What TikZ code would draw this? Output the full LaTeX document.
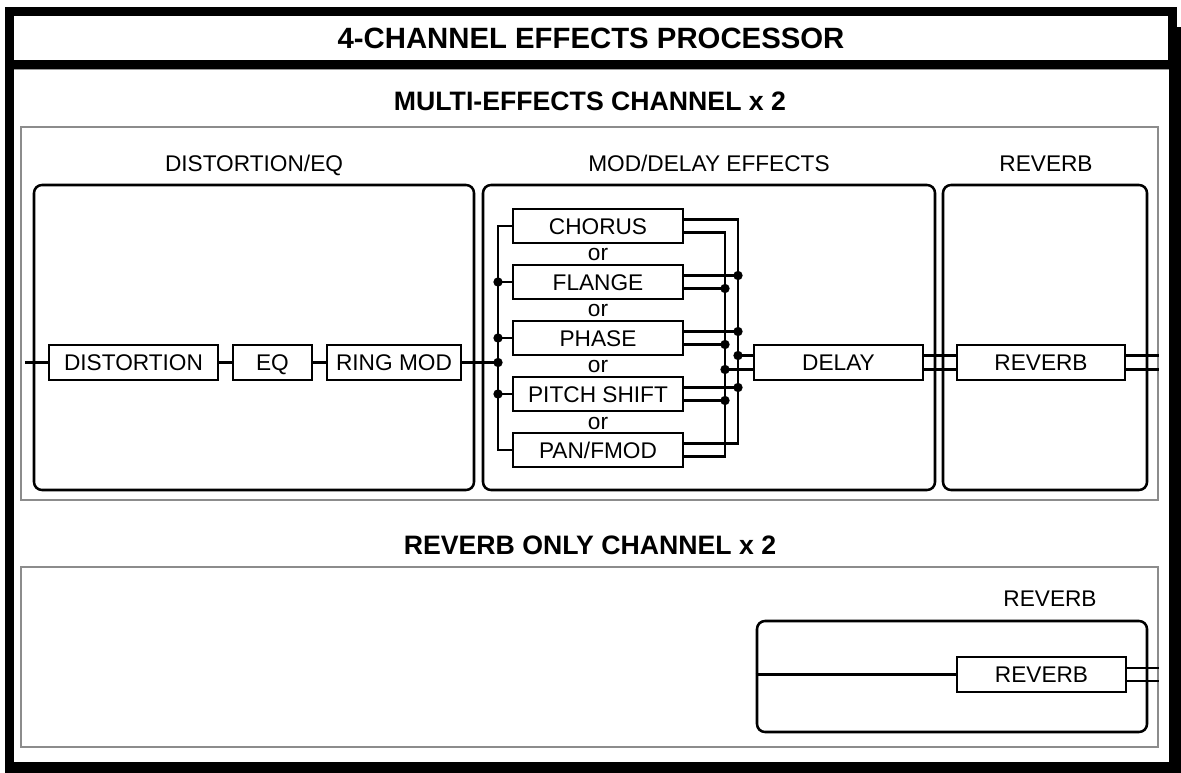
\documentclass[tikz,border=0pt]{standalone}
\usepackage{fontspec}
\setmainfont{Liberation Sans}
\usetikzlibrary{calc}
\begin{document}
\begin{tikzpicture}[x=0.75pt,y=-0.75pt,
  lbl/.style={font=\fontsize{17}{20}\selectfont, inner sep=0pt, text height=12.2pt, text depth=0pt},
  ttl/.style={font=\fontsize{20}{24}\selectfont\bfseries, inner sep=0pt, text height=14.3pt, text depth=0pt},
  fx/.style 2 args={draw, line width=2.2pt, fill=white, inner sep=0pt,
     minimum width=#1*0.75pt, minimum height=#2*0.75pt, font=\fontsize{17}{20}\selectfont,
     text height=12.2pt, text depth=0pt},
  grp/.style 2 args={draw, line width=1.9pt, rounded corners=6pt, inner sep=0pt,
     minimum width=#1*0.75pt, minimum height=#2*0.75pt},
  gbox/.style 2 args={draw=black!45, line width=1.5pt, inner sep=0pt,
     minimum width=#1*0.75pt, minimum height=#2*0.75pt},
  wire/.style={line width=2.2pt},
  jdot/.style={circle, fill, inner sep=0pt, minimum size=7pt}
]
\useasboundingbox (0,0) rectangle (1181,773);
% outer frame
\fill[white] (0,0) rectangle (1181,773);
\draw[line width=6.75pt] (9.5,12) rectangle (1172.5,65);
\fill[black] (5,65) rectangle (14,773);
\fill[black] (5,762) rectangle (1181,773);
\fill[black] (1169,27) rectangle (1181,773);
\draw[black!40, line width=0.9pt] (14,69.5) -- (1169,69.5);
\node[ttl, font=\fontsize{22}{26}\selectfont\bfseries, text height=15.7pt] (t0) at (591,38) {4-CHANNEL EFFECTS PROCESSOR};

% multi-effects section
\node[ttl] (t1) at (590,101) {MULTI-EFFECTS CHANNEL x 2};
\node[gbox={1137}{373}] (g1) at (589.5,313.5) {};
\node[grp={440}{305}] (r1) at (254,337.5) {};
\node[grp={452}{305}] (r2) at (709,337.5) {};
\node[grp={204}{305}] (r3) at (1045,337.5) {};
\node[lbl] (l1) at (254,163) {DISTORTION/EQ};
\node[lbl] (l2) at (709,163) {MOD/DELAY EFFECTS};
\node[lbl] (l3) at (1046,163) {REVERB};

\node[fx={169}{35}] (dist) at (133.5,362.5) {DISTORTION};
\node[fx={79}{35}] (eq) at (272.5,362.5) {EQ};
\node[fx={134}{35}] (ring) at (394,362.5) {RING MOD};

\node[fx={170}{34}] (chorus) at (598,226) {CHORUS};
\node[fx={170}{34}] (flange) at (598,282) {FLANGE};
\node[fx={170}{34}] (phase) at (598,338) {PHASE};
\node[fx={170}{34}] (pitch) at (598,394) {PITCH SHIFT};
\node[fx={170}{34}] (pan) at (598,450) {PAN/FMOD};
\node[lbl, text height=9pt] (or1) at (598,255) {or};
\node[lbl, text height=9pt] (or2) at (598,311) {or};
\node[lbl, text height=9pt] (or3) at (598,367) {or};
\node[lbl, text height=9pt] (or4) at (598,423) {or};

\node[fx={169}{35}] (delay) at (838.5,362.5) {DELAY};
\node[fx={168}{35}] (rev1) at (1041,362.5) {REVERB};

% chain wiring
\coordinate (in1) at (25,362.5);
\coordinate (lb) at (498,0);
\coordinate (ob) at (738,0);
\coordinate (ib) at (725,0);
\draw[wire] (in1) -- (dist.west);
\draw[wire] (dist.east) -- (eq.west);
\draw[wire] (eq.east) -- (ring.west);
\draw[wire] (ring.east) -- (lb |- ring.east);
\draw[wire] (chorus.west) -- (lb |- chorus.west) -- (lb |- pan.west) -- (pan.west);
\foreach \m in {flange,phase,pitch}{
  \draw[wire] (lb |- \m.west) -- (\m.west);
  \node[jdot] at (lb |- \m.west) {};
}
\node[jdot] at (lb |- ring.east) {};

\foreach \m in {chorus,flange,phase,pitch,pan}{
  \coordinate (\m-u) at ($(\m.east)+(0,-6.5)$);
  \coordinate (\m-l) at ($(\m.east)+(0,6.5)$);
}
\draw[wire] (chorus-u) -- (ob |- chorus-u) -- (ob |- pan-u) -- (pan-u);
\draw[wire] (chorus-l) -- (ib |- chorus-l) -- (ib |- pan-l) -- (pan-l);
\foreach \m in {flange,phase,pitch}{
  \draw[wire] (\m-u) -- (ob |- \m-u);
  \draw[wire] (\m-l) -- (ib |- \m-l);
  \node[jdot] at (ob |- \m-u) {};
  \node[jdot] at (ib |- \m-l) {};
}
\coordinate (delay-u) at ($(delay.west)+(0,-7)$);
\coordinate (delay-l) at ($(delay.west)+(0,7)$);
\draw[wire] (ob |- delay-u) -- (delay-u);
\draw[wire] (ib |- delay-l) -- (delay-l);
\node[jdot] at (ob |- delay-u) {};
\node[jdot] at (ib |- delay-l) {};

\draw[wire] ($(delay.east)+(0,-7)$) -- ($(rev1.west)+(0,-7)$);
\draw[wire] ($(delay.east)+(0,7)$) -- ($(rev1.west)+(0,7)$);
\draw[wire] ($(rev1.east)+(0,-7)$) -- ($(g1.east |- rev1.east)+(0,-7)$);
\draw[wire] ($(rev1.east)+(0,7)$) -- ($(g1.east |- rev1.east)+(0,7)$);

% reverb only section
\node[ttl] (t2) at (590,545) {REVERB ONLY CHANNEL x 2};
\node[gbox={1137}{180}] (g2) at (589.5,657) {};
\node[grp={390}{111}] (r4) at (952,676.5) {};
\node[lbl] (l4) at (1050,598) {REVERB};
\node[fx={169}{35}] (rev2) at (1041.5,674.5) {REVERB};
\draw[wire] (r4.west |- rev2.west) -- (rev2.west);
\draw[wire] ($(rev2.east)+(0,-6.5)$) -- ($(g2.east |- rev2.east)+(0,-6.5)$);
\draw[wire] ($(rev2.east)+(0,6.5)$) -- ($(g2.east |- rev2.east)+(0,6.5)$);
\end{tikzpicture}
\end{document}
